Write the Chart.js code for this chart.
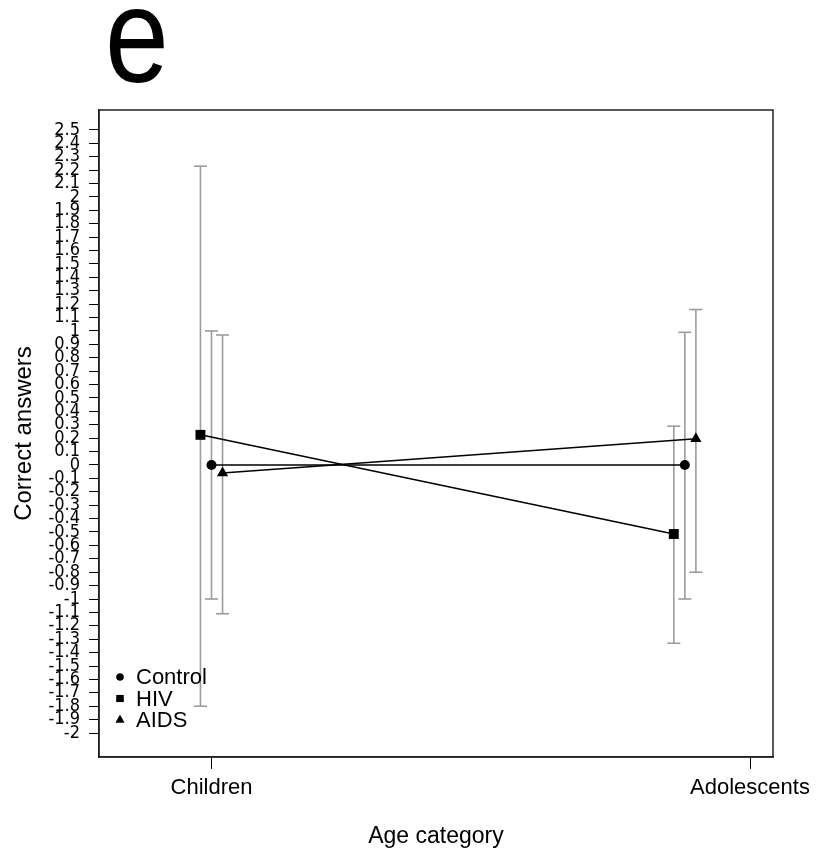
<!DOCTYPE html>
<html><head><meta charset="utf-8">
<script src="https://cdn.jsdelivr.net/npm/chart.js@4.4.1/dist/chart.umd.min.js"></script>
<style>html,body{margin:0;padding:0;background:#fff;}canvas{display:block;}</style>
</head><body>
<canvas id="c" width="825" height="854"></canvas>
<script>
// ---- data ----
const panelLabel = 'e';
const categories = ['Children', 'Adolescents'];
const seriesNames = ['Control', 'HIV', 'AIDS'];
const controlMean = [0.0, 0.0];
const controlLow  = [-1.0, -1.0];
const controlHigh = [1.0, 0.99];
const hivMean = [0.225, -0.515];
const hivLow  = [-1.80, -1.33];
const hivHigh = [2.23, 0.29];
const aidsMean = [-0.06, 0.195];
const aidsLow  = [-1.11, -0.80];
const aidsHigh = [0.97, 1.16];
const yTickLabels = ['2.5','2.4','2.3','2.2','2.1','2','1.9','1.8','1.7','1.6','1.5','1.4','1.3','1.2','1.1','1',
  '0.9','0.8','0.7','0.6','0.5','0.4','0.3','0.2','0.1','0',
  '-0.1','-0.2','-0.3','-0.4','-0.5','-0.6','-0.7','-0.8','-0.9','-1',
  '-1.1','-1.2','-1.3','-1.4','-1.5','-1.6','-1.7','-1.8','-1.9','-2'];
const xTitle = 'Age category';
const yTitle = 'Correct answers';

// ---- layout (positions, not data) ----
const tickPos = [1, 2];
const groupCenter = [1, 1.879];
const dodge = {Control: 0, HIV: -0.0205, AIDS: 0.0205};
const markerStyle = {Control: 'circle', HIV: 'rect', AIDS: 'triangle'};
const markerRadius = {Control: 5, HIV: 7, AIDS: 6.5};
const legendRadius = {Control: 3.6, HIV: 5, AIDS: 5};
const errColor = '#9c9c9c';

const series = [
  {name: 'Control', mean: controlMean, low: controlLow, high: controlHigh},
  {name: 'HIV', mean: hivMean, low: hivLow, high: hivHigh},
  {name: 'AIDS', mean: aidsMean, low: aidsLow, high: aidsHigh}
];

const datasets = [];
series.forEach(s => {
  categories.forEach((c, i) => {
    const x = groupCenter[i] + dodge[s.name];
    datasets.push({
      data: [{x: x, y: s.low[i]}, {x: x, y: s.high[i]}],
      showLine: true,
      borderColor: errColor,
      borderWidth: 1.6,
      pointStyle: 'line',
      pointRadius: 6.5,
      pointBorderColor: errColor,
      pointBorderWidth: 1.6,
      order: 2
    });
  });
  datasets.push({
    label: s.name,
    data: categories.map((c, i) => ({x: groupCenter[i] + dodge[s.name], y: s.mean[i]})),
    showLine: true,
    borderColor: '#000',
    borderWidth: 1.5,
    pointStyle: markerStyle[s.name],
    pointRadius: markerRadius[s.name],
    pointBackgroundColor: '#000',
    pointBorderColor: '#000',
    pointBorderWidth: 0,
    order: 1
  });
});

const decor = {
  id: 'decor',
  beforeDraw(chart) {
    const ctx = chart.ctx;
    ctx.save();
    ctx.fillStyle = '#fff';
    ctx.fillRect(0, 0, chart.width, chart.height);
    ctx.restore();
  },
  afterDraw(chart) {
    const ctx = chart.ctx;
    const a = chart.chartArea;
    ctx.save();
    ctx.strokeStyle = '#222';
    ctx.lineWidth = 1.5;
    ctx.strokeRect(a.left, a.top, a.right - a.left, a.bottom - a.top);
    // panel label
    ctx.save();
    ctx.translate(105, 82);
    ctx.scale(0.85, 1);
    ctx.fillStyle = '#000';
    ctx.font = '135px "Liberation Sans", Arial, sans-serif';
    ctx.textBaseline = 'alphabetic';
    ctx.fillText(panelLabel, 0, 0);
    ctx.restore();
    // legend
    const rows = [677, 698.5, 720];
    seriesNames.forEach((n, i) => {
      Chart.helpers.drawPoint(ctx, {pointStyle: markerStyle[n], radius: legendRadius[n], rotation: 0, borderWidth: 0}, 120, rows[i]);
      ctx.fillStyle = '#000';
      ctx.fill();
      ctx.font = '22px "Liberation Sans", Arial, sans-serif';
      ctx.textBaseline = 'middle';
      ctx.textAlign = 'left';
      ctx.fillText(n, 136, rows[i] + 1);
    });
    ctx.restore();
  }
};

new Chart(document.getElementById('c'), {
  type: 'scatter',
  data: {datasets},
  plugins: [decor],
  options: {
    responsive: false,
    animation: false,
    layout: {padding: {top: 110, right: 52, bottom: 0, left: 0}},
    plugins: {legend: {display: false}, tooltip: {enabled: false}},
    scales: {
      x: {
        type: 'linear',
        min: 0.7911,
        max: 2.0427,
        afterBuildTicks: s => { s.ticks = tickPos.map(v => ({value: v})); },
        afterFit: s => { s.height = 97; },
        grid: {drawOnChartArea: false, tickLength: 12, tickColor: '#000', tickWidth: 1},
        border: {display: true, color: '#222', width: 1.5},
        ticks: {
          autoSkip: false, maxRotation: 0, color: '#000', padding: 6,
          font: {family: '"Liberation Sans", Arial, sans-serif', size: 22},
          callback: (v, i) => categories[i]
        },
        title: {display: true, text: xTitle, color: '#000',
          font: {family: '"Liberation Sans", Arial, sans-serif', size: 23},
          padding: {top: 0, bottom: 4}}
      },
      y: {
        type: 'linear',
        min: -2.179,
        max: 2.649,
        afterBuildTicks: s => { s.ticks = yTickLabels.map(l => ({value: parseFloat(l)})); },
        afterFit: s => { s.width = 99; },
        grid: {drawOnChartArea: false, tickLength: 10, tickColor: '#000', tickWidth: 1},
        border: {display: true, color: '#222', width: 1.5},
        ticks: {
          autoSkip: false, color: '#000', padding: 9,
          font: {family: '"Liberation Sans Narrow", "DejaVu Sans Condensed", sans-serif', size: 18},
          callback: (v, i) => yTickLabels[i]
        },
        title: {display: true, text: yTitle, color: '#000',
          font: {family: '"Liberation Sans", Arial, sans-serif', size: 24},
          padding: {top: 10, bottom: 0}}
      }
    }
  }
});
</script>
</body></html>
